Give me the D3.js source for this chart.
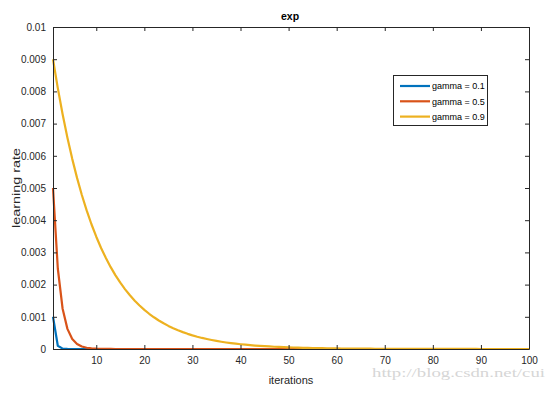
<!DOCTYPE html>
<html>
<head>
<meta charset="utf-8">
<script src="https://cdn.jsdelivr.net/npm/d3@7"></script>
<style>
html,body{margin:0;padding:0;background:#fff;}
svg{display:block;}
</style>
</head>
<body>
<svg id="chart" width="547" height="394"></svg>
<script>
// ---- data ----
const seriesNames = ["gamma = 0.1", "gamma = 0.5", "gamma = 0.9"];
const xTicks = [10, 20, 30, 40, 50, 60, 70, 80, 90, 100];
const yTicks = [0, 0.001, 0.002, 0.003, 0.004, 0.005, 0.006, 0.007, 0.008, 0.009, 0.01];
const yTickLabels = ["0", "0.001", "0.002", "0.003", "0.004", "0.005", "0.006", "0.007", "0.008", "0.009", "0.01"];
const iterations = d3.range(1, 101);
const lrGamma01 = [
 0.001, 0.0001, 0.00001, 0.000001, 0.0000001, 0, 0, 0, 0, 0,
 0, 0, 0, 0, 0, 0, 0, 0, 0, 0,
 0, 0, 0, 0, 0, 0, 0, 0, 0, 0,
 0, 0, 0, 0, 0, 0, 0, 0, 0, 0,
 0, 0, 0, 0, 0, 0, 0, 0, 0, 0,
 0, 0, 0, 0, 0, 0, 0, 0, 0, 0,
 0, 0, 0, 0, 0, 0, 0, 0, 0, 0,
 0, 0, 0, 0, 0, 0, 0, 0, 0, 0,
 0, 0, 0, 0, 0, 0, 0, 0, 0, 0,
 0, 0, 0, 0, 0, 0, 0, 0, 0, 0
];
const lrGamma05 = [
 0.005, 0.0025, 0.00125, 0.000625, 0.0003125, 0.00015625, 0.000078, 0.000039, 0.0000195, 0.0000098,
 0.0000049, 0.0000024, 0.0000012, 0.0000006, 0.0000003, 0.0000002, 0.0000001, 0, 0, 0,
 0, 0, 0, 0, 0, 0, 0, 0, 0, 0,
 0, 0, 0, 0, 0, 0, 0, 0, 0, 0,
 0, 0, 0, 0, 0, 0, 0, 0, 0, 0,
 0, 0, 0, 0, 0, 0, 0, 0, 0, 0,
 0, 0, 0, 0, 0, 0, 0, 0, 0, 0,
 0, 0, 0, 0, 0, 0, 0, 0, 0, 0,
 0, 0, 0, 0, 0, 0, 0, 0, 0, 0,
 0, 0, 0, 0, 0, 0, 0, 0, 0, 0
];
const lrGamma09 = [
 0.009, 0.0081, 0.00729, 0.006561, 0.0059049, 0.0053144, 0.004783, 0.0043047, 0.0038742, 0.0034868,
 0.0031381, 0.0028243, 0.0025419, 0.0022877, 0.0020589, 0.001853, 0.0016677, 0.0015009, 0.0013509, 0.0012158,
 0.0010942, 0.00098477, 0.00088629, 0.00079766, 0.0007179, 0.00064611, 0.0005815, 0.00052335, 0.00047101, 0.00042391,
 0.00038152, 0.00034337, 0.00030903, 0.00027813, 0.00025032, 0.00022528, 0.00020276, 0.00018248, 0.00016423, 0.00014781,
 0.00013303, 0.00011973, 0.00010775, 0.000096977, 0.00008728, 0.000078552, 0.000070697, 0.000063627, 0.000057264, 0.000051538,
 0.000046384, 0.000041746, 0.000037571, 0.000033814, 0.000030433, 0.000027389, 0.00002465, 0.000022185, 0.000019967, 0.00001797,
 0.000016173, 0.000014556, 0.0000131, 0.00001179, 0.000010611, 0.0000095501, 0.0000085951, 0.0000077356, 0.000006962, 0.0000062658,
 0.0000056392, 0.0000050753, 0.0000045678, 0.000004111, 0.0000036999, 0.0000033299, 0.0000029969, 0.0000026972, 0.0000024275, 0.0000021847,
 0.0000019663, 0.0000017696, 0.0000015927, 0.0000014334, 0.0000012901, 0.0000011611, 0.000001045, 0.00000094046, 0.00000084641, 0.00000076177,
 0.00000068559, 0.00000061703, 0.00000055533, 0.0000004998, 0.00000044982, 0.00000040484, 0.00000036435, 0.00000032792, 0.00000029513, 0.00000026561
];
const seriesValues = [lrGamma01, lrGamma05, lrGamma09];
const seriesColors = ["#0072BD", "#D95319", "#EDB120"];

// ---- layout ----
const svg = d3.select("#chart");
const L = 53, T = 27, R = 529, B = 349;
const x = d3.scaleLinear().domain([1, 100]).range([L, R]);
const y = d3.scaleLinear().domain([0, 0.01]).range([B, T]);
const axisColor = "#262626";
const font = "'Liberation Sans', Arial, Helvetica, sans-serif";

// lines
const line = d3.line().x((d, i) => x(iterations[i])).y(d => y(d));
const plot = svg.append("g");
seriesValues.forEach((vals, k) => {
  plot.append("path")
    .datum(vals)
    .attr("d", line)
    .attr("fill", "none")
    .attr("stroke", seriesColors[k])
    .attr("stroke-width", 2.2)
    .attr("stroke-linejoin", "round");
});

// axes (inward ticks, box)
const xAxisB = d3.axisBottom(x).tickValues(xTicks).tickSizeInner(-4).tickSizeOuter(0).tickPadding(8);
const xAxisT = d3.axisTop(x).tickValues(xTicks).tickSizeInner(-4).tickSizeOuter(0).tickFormat("");
const yAxisL = d3.axisLeft(y).tickValues(yTicks).tickSizeInner(-4).tickSizeOuter(0).tickPadding(7)
  .tickFormat((d, i) => yTickLabels[i]);
const yAxisR = d3.axisRight(y).tickValues(yTicks).tickSizeInner(-4).tickSizeOuter(0).tickFormat("");

function style(g) {
  g.select(".domain").attr("stroke", axisColor).attr("stroke-width", 1);
  g.selectAll(".tick line").attr("stroke", axisColor).attr("stroke-width", 1);
  g.selectAll(".tick text").attr("fill", axisColor).style("font-family", font).style("font-size", "10px");
}
svg.append("g").attr("transform", `translate(0,${B})`).call(xAxisB).call(style);
svg.append("g").attr("transform", `translate(0,${T})`).call(xAxisT).call(style);
svg.append("g").attr("transform", `translate(${L},0)`).call(yAxisL).call(style);
svg.append("g").attr("transform", `translate(${R},0)`).call(yAxisR).call(style);

// title & labels
svg.append("text").attr("x", 290).attr("y", 20).attr("text-anchor", "middle")
  .style("font-family", font).style("font-size", "10.5px").style("font-weight", "bold").attr("fill", "#000").text("exp");
svg.append("text").attr("x", 291).attr("y", 384).attr("text-anchor", "middle")
  .style("font-family", font).style("font-size", "11px").attr("fill", axisColor).text("iterations");
svg.append("text").attr("transform", `translate(20,${(T + B) / 2}) rotate(-90)`).attr("text-anchor", "middle")
  .attr("textLength", 80).attr("lengthAdjust", "spacingAndGlyphs")
  .style("font-family", font).style("font-size", "11.5px").attr("fill", axisColor).text("learning rate");

// legend
const lg = svg.append("g");
lg.append("rect").attr("x", 393.5).attr("y", 75.5).attr("width", 94).attr("height", 50)
  .attr("fill", "#fff").attr("stroke", axisColor).attr("stroke-width", 1);
seriesNames.forEach((name, k) => {
  const yy = 86 + k * 15.3;
  lg.append("line").attr("x1", 400).attr("x2", 430).attr("y1", yy).attr("y2", yy)
    .attr("stroke", seriesColors[k]).attr("stroke-width", 2.2);
  lg.append("text").attr("x", 432).attr("y", yy + 3.3)
    .style("font-family", font).style("font-size", "9px").attr("fill", "#000").text(name);
});

// watermark
svg.append("text").attr("x", 372).attr("y", 377)
  .attr("textLength", 173).attr("lengthAdjust", "spacingAndGlyphs")
  .style("font-family", "'Liberation Serif', 'DejaVu Serif', serif").style("font-size", "13px")
  .attr("fill", "#d6d6d6").text("http://blog.csdn.net/cui");
</script>
</body>
</html>
